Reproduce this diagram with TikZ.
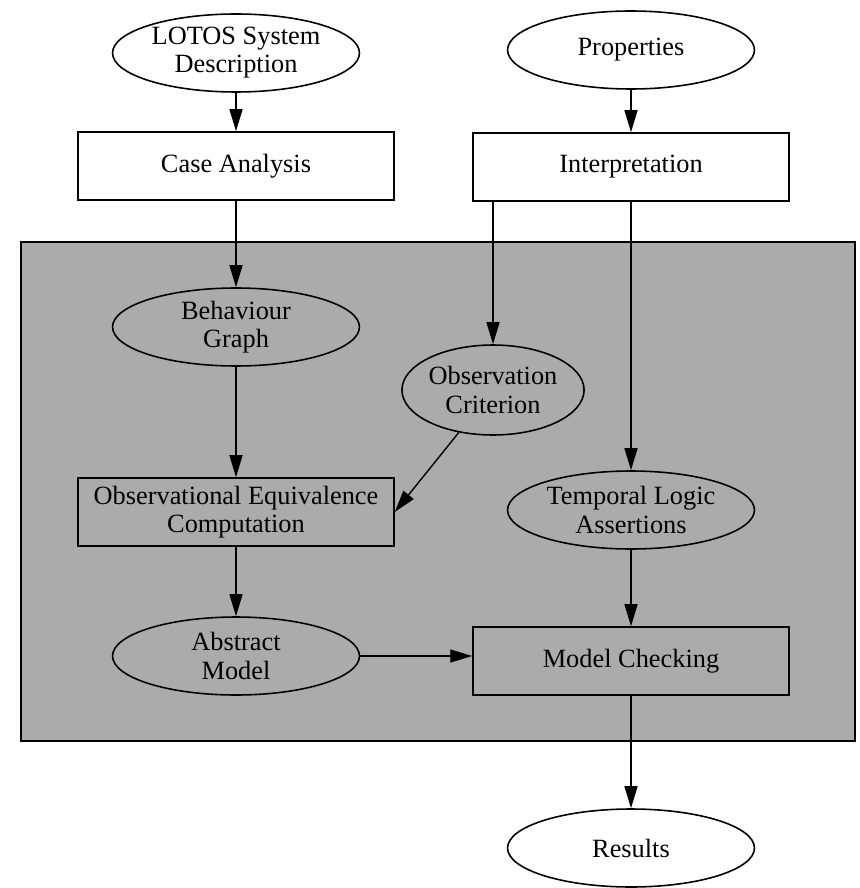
\documentclass[tikz,border=0pt]{standalone}
\usepackage{fontspec}
\setmainfont{Liberation Serif}
\usetikzlibrary{shapes.geometric, arrows, arrows.meta}
\tikzstyle{arrow} = [line width=0.8pt,-{Triangle[length=4.4mm,width=2.6mm]}]
\tikzstyle{oval} = [draw, ellipse, line width=0.9pt, inner sep=0pt, minimum width=4.94cm, minimum height=1.56cm, align=center]
\tikzstyle{block} = [draw, rectangle, line width=0.9pt, inner sep=0pt, minimum width=6.32cm, minimum height=1.36cm, align=center]

\begin{document}
\begin{tikzpicture}[x=0.02cm, y=-0.02cm, font=\fontsize{15}{16}\selectfont]
    \useasboundingbox (0,0) rectangle (859,888);
    % shaded part
    \draw[fill=black!33, line width=0.9pt] (21,242) rectangle (855,741);
    % top row
    \node[oval] (lotos) at (236,53) {LOTOS System\\Description};
    \node[oval] (props) at (631,50) {Properties};
    \node[block] (case) at (236,166) {Case Analysis};
    \node[block] (interp) at (631,167) {Interpretation};
    % inside
    \node[oval] (behav) at (236,327) {Behaviour\\Graph};
    \node[oval, minimum width=3.4cm, minimum height=1.8cm] (obs) at (493,390) {Observation\\Criterion};
    \node[block] (oec) at (236,512) {Observational Equivalence\\Computation};
    \node[oval] (temporal) at (631,510) {Temporal Logic\\Assertions};
    \node[oval] (abstract) at (236,656) {Abstract\\Model};
    \node[block] (mc) at (631,661) {Model Checking};
    % below
    \node[oval] (results) at (631,848) {Results};
    % arrows
    \draw[arrow] (lotos) -- (case);
    \draw[arrow] (props) -- (interp);
    \draw[arrow] (case) -- (behav);
    \draw[arrow] (obs.north |- interp.south) -- (obs);
    \draw[arrow] (interp) -- (temporal);
    \draw[arrow] (behav) -- (oec);
    \draw[arrow] (obs) -- (oec.east);
    \draw[arrow] (oec) -- (abstract);
    \draw[arrow] (temporal) -- (mc);
    \draw[arrow] (abstract.east) -- (abstract.east -| mc.west);
    \draw[arrow] (mc) -- (results);
\end{tikzpicture}
\end{document}
